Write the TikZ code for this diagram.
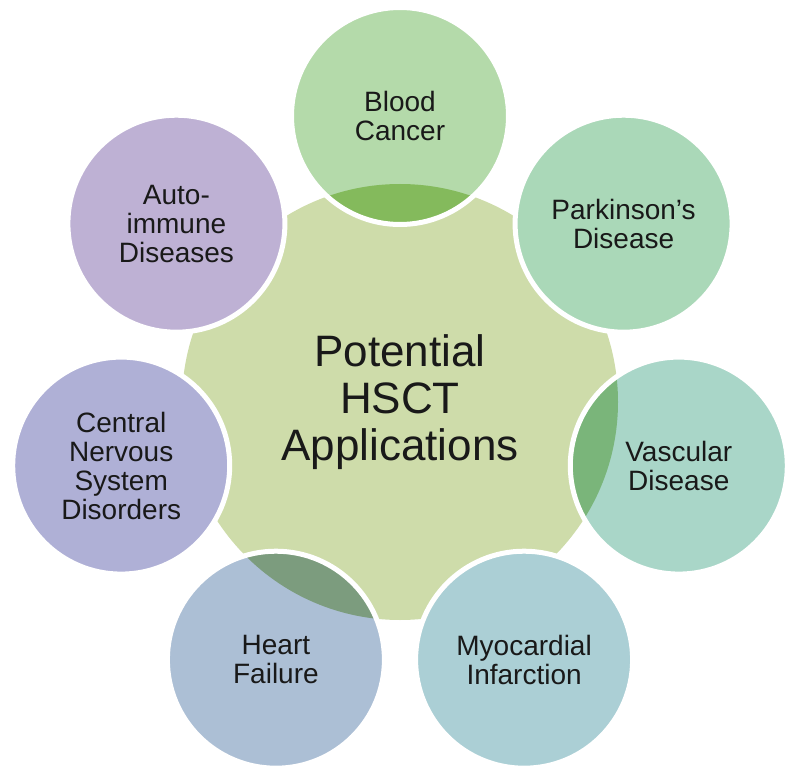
\documentclass[tikz,border=0pt]{standalone}
\usepackage{fontspec}
\setmainfont{Liberation Sans}

% fills
\definecolor{hubfill}{RGB}{206,220,170}
\definecolor{cBlood}{RGB}{180,218,170}
\definecolor{cPark}{RGB}{170,216,184}
\definecolor{cVasc}{RGB}{169,214,200}
\definecolor{cMyo}{RGB}{171,207,213}
\definecolor{cHeart}{RGB}{172,191,213}
\definecolor{cCNS}{RGB}{175,176,214}
\definecolor{cAuto}{RGB}{190,177,212}
% overlaps with the hub
\definecolor{lBlood}{RGB}{132,186,92}
\definecolor{lVasc}{RGB}{122,181,122}
\definecolor{lHeart}{RGB}{124,156,126}
\definecolor{ink}{RGB}{25,25,25}

\begin{document}
\begin{tikzpicture}[x=1pt,y=-1pt,
  hubstyle/.style={circle, fill=hubfill, minimum size=436pt, inner sep=0pt,
    align=center, text=ink, font=\fontsize{44}{47}\selectfont},
  bubble/.style={circle, minimum size=217pt, inner sep=0pt, draw=white,
    line width=5pt, align=center, text=ink, font=\fontsize{28}{29}\selectfont},
  overlap/.style={path picture={\fill[#1] (hub.center) circle[radius=218pt];}}]

\path[use as bounding box] (0,0) rectangle (787,767);

\node[hubstyle] (hub) at (400,402) {Potential\\HSCT\\Applications};

\node[bubble, fill=cBlood, overlap=lBlood] (blood) at (400.0,116.0) {Blood\\Cancer};
\node[bubble, fill=cPark] (park) at (623.6,223.7) {Parkinson’s\\Disease};
\node[bubble, fill=cVasc, overlap=lVasc] (vasc) at (678.8,465.6) {Vascular\\Disease};
\node[bubble, fill=cMyo] (myo) at (524.1,659.7) {Myocardial\\Infarction};
\node[bubble, fill=cHeart, overlap=lHeart] (heart) at (275.9,659.7) {Heart\\Failure};
\node[bubble, fill=cCNS] (cns) at (121.2,465.6) {Central\\Nervous\\System\\Disorders};
\node[bubble, fill=cAuto] (auto) at (176.4,223.7) {Auto-\\immune\\Diseases};

\end{tikzpicture}
\end{document}
